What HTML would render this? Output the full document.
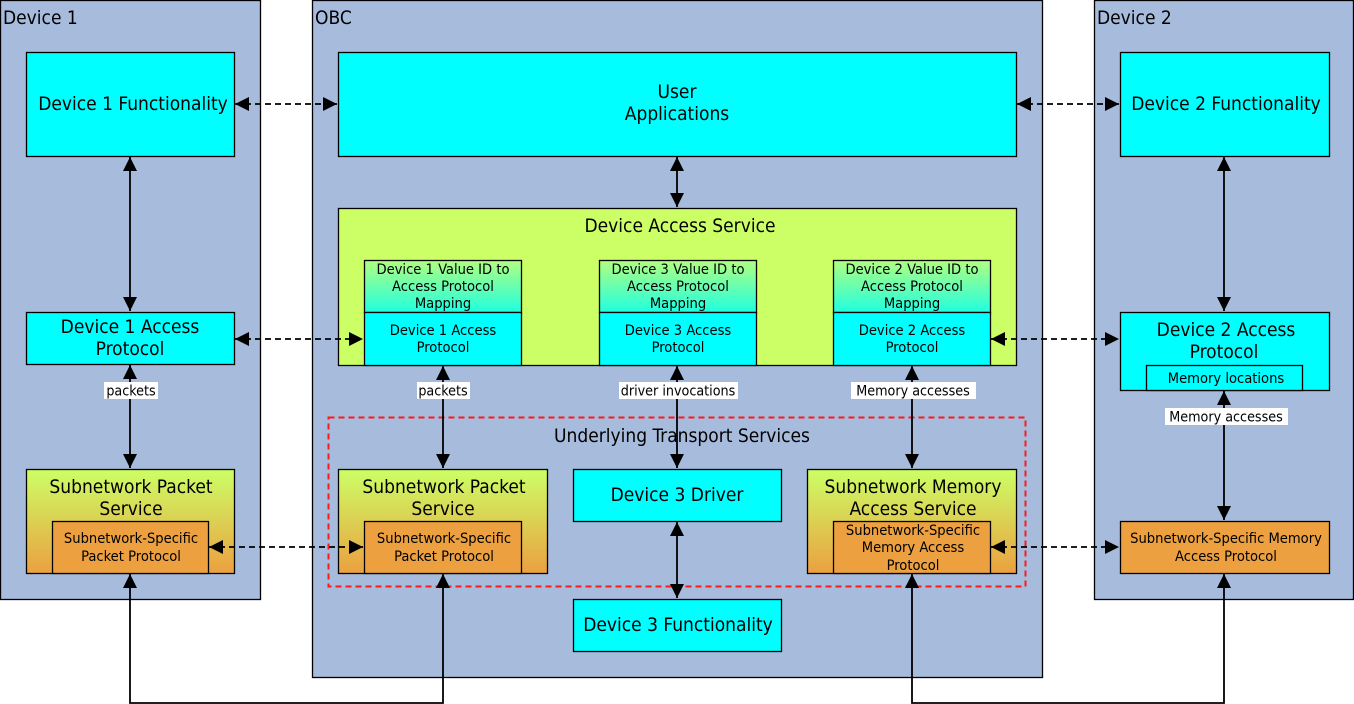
<!DOCTYPE html>
<html><head><meta charset="utf-8"><style>
body{margin:0;background:#fff}
svg{display:block}
text{font-family:"DejaVu Sans Condensed","DejaVu Sans","Liberation Sans",sans-serif;fill:#000}
</style></head><body>
<svg width="1354" height="704" viewBox="0 0 1354 704" xmlns="http://www.w3.org/2000/svg">
<defs>
<linearGradient id="svc" x1="0" y1="0" x2="0" y2="1"><stop offset="0" stop-color="#ccff66"/><stop offset="1" stop-color="#eca040"/></linearGradient>
<linearGradient id="map" x1="0" y1="0" x2="0" y2="1"><stop offset="0" stop-color="#b0ff80"/><stop offset="1" stop-color="#20ffe0"/></linearGradient>
<marker id="a" viewBox="0 0 10 10" refX="10" refY="5" markerWidth="14" markerHeight="14" markerUnits="userSpaceOnUse" orient="auto-start-reverse"><path d="M0,0L10,5L0,10z" fill="#000"/></marker>
</defs>
<g stroke="#000" stroke-width="1.3">
<rect x="0.5" y="0.5" width="260" height="599" fill="#a7bbdc"/>
<rect x="312.5" y="0.5" width="730" height="677" fill="#a7bbdc"/>
<rect x="1094.5" y="0.5" width="259" height="599" fill="#a7bbdc"/>
<rect x="26.5" y="52.5" width="208" height="104" fill="#00ffff"/>
<rect x="338.5" y="52.5" width="678" height="104" fill="#00ffff"/>
<rect x="1120.5" y="52.5" width="209" height="104" fill="#00ffff"/>
<rect x="338.5" y="208.5" width="678" height="157" fill="#ccff66"/>
<rect x="364.5" y="260.5" width="157" height="52" fill="url(#map)"/>
<rect x="599.5" y="260.5" width="157" height="52" fill="url(#map)"/>
<rect x="833.5" y="260.5" width="157" height="52" fill="url(#map)"/>
<rect x="364.5" y="312.5" width="157" height="53" fill="#00ffff"/>
<rect x="599.5" y="312.5" width="157" height="53" fill="#00ffff"/>
<rect x="833.5" y="312.5" width="157" height="53" fill="#00ffff"/>
<rect x="26.5" y="312.5" width="208" height="52" fill="#00ffff"/>
<rect x="1120.5" y="312.5" width="209" height="78" fill="#00ffff"/>
<rect x="1146.5" y="365.5" width="156" height="25" fill="#00ffff"/>
<rect x="26.5" y="469.5" width="208" height="104" fill="url(#svc)"/>
<rect x="52.5" y="521.5" width="156" height="52" fill="#eca040"/>
<rect x="338.5" y="469.5" width="209" height="104" fill="url(#svc)"/>
<rect x="364.5" y="521.5" width="157" height="52" fill="#eca040"/>
<rect x="573.5" y="469.5" width="208" height="52" fill="#00ffff"/>
<rect x="807.5" y="469.5" width="209" height="104" fill="url(#svc)"/>
<rect x="833.5" y="521.5" width="157" height="52" fill="#eca040"/>
<rect x="1120.5" y="521.5" width="209" height="52" fill="#eca040"/>
<rect x="573.5" y="599.5" width="208" height="52" fill="#00ffff"/>
</g>
<rect x="328.5" y="417.5" width="697" height="169" fill="none" stroke="#ff1a1a" stroke-width="2" stroke-dasharray="6,4"/>
<g stroke="#000" stroke-width="1.8" fill="none" stroke-dasharray="6,4">
<line x1="235" y1="104" x2="337" y2="104" marker-start="url(#a)" marker-end="url(#a)"/>
<line x1="1017" y1="104" x2="1119" y2="104" marker-start="url(#a)" marker-end="url(#a)"/>
<line x1="235" y1="339" x2="363" y2="339" marker-start="url(#a)" marker-end="url(#a)"/>
<line x1="991" y1="339" x2="1119" y2="339" marker-start="url(#a)" marker-end="url(#a)"/>
<line x1="209" y1="547" x2="363" y2="547" marker-start="url(#a)" marker-end="url(#a)"/>
<line x1="991" y1="547" x2="1119" y2="547" marker-start="url(#a)" marker-end="url(#a)"/>
</g>
<g stroke="#000" stroke-width="1.8" fill="none">
<line x1="130" y1="157" x2="130" y2="311" marker-start="url(#a)" marker-end="url(#a)"/>
<line x1="130" y1="365" x2="130" y2="468" marker-start="url(#a)" marker-end="url(#a)"/>
<line x1="677" y1="157" x2="677" y2="207" marker-start="url(#a)" marker-end="url(#a)"/>
<line x1="443" y1="366" x2="443" y2="468" marker-start="url(#a)" marker-end="url(#a)"/>
<line x1="677" y1="366" x2="677" y2="468" marker-start="url(#a)" marker-end="url(#a)"/>
<line x1="912" y1="366" x2="912" y2="468" marker-start="url(#a)" marker-end="url(#a)"/>
<line x1="1224" y1="157" x2="1224" y2="311" marker-start="url(#a)" marker-end="url(#a)"/>
<line x1="1224" y1="391" x2="1224" y2="520" marker-start="url(#a)" marker-end="url(#a)"/>
<line x1="677" y1="522" x2="677" y2="598" marker-start="url(#a)" marker-end="url(#a)"/>
<polyline points="130,574 130,703 443,703 443,574" marker-start="url(#a)" marker-end="url(#a)"/>
<polyline points="912,574 912,703 1224,703 1224,574" marker-start="url(#a)" marker-end="url(#a)"/>
</g>
<g fill="#fff">
<rect x="104" y="382" width="54" height="17"/>
<rect x="417" y="382" width="53" height="17"/>
<rect x="619" y="382" width="119" height="17"/>
<rect x="851" y="382" width="125" height="17"/>
<rect x="1165" y="408" width="123" height="17"/>
</g>
<g font-size="14.2" text-anchor="middle">
<text x="131" y="395.5">packets</text>
<text x="443" y="395.5">packets</text>
<text x="678" y="395.5">driver invocations</text>
<text x="913" y="395.5">Memory accesses</text>
<text x="1226" y="421.5">Memory accesses</text>
</g>
<g font-size="19">
<text x="3" y="24">Device 1</text>
<text x="315" y="24">OBC</text>
<text x="1097" y="24">Device 2</text>
</g>
<g font-size="19" text-anchor="middle">
<text x="133" y="110">Device 1 Functionality</text>
<text x="677" y="98">User</text>
<text x="677" y="120">Applications</text>
<text x="1226" y="110">Device 2 Functionality</text>
<text x="680" y="232">Device Access Service</text>
<text x="130" y="333">Device 1 Access</text>
<text x="130" y="355">Protocol</text>
<text x="1226" y="336">Device 2 Access</text>
<text x="1224" y="358">Protocol</text>
<text x="682" y="442">Underlying Transport Services</text>
<text x="131" y="493">Subnetwork Packet</text>
<text x="131" y="515">Service</text>
<text x="444" y="493">Subnetwork Packet</text>
<text x="443" y="515">Service</text>
<text x="913" y="493">Subnetwork Memory</text>
<text x="913" y="515">Access Service</text>
<text x="677" y="501">Device 3 Driver</text>
<text x="678" y="631">Device 3 Functionality</text>
</g>
<g font-size="14.6" text-anchor="middle">
<text x="443" y="274">Device 1 Value ID to</text>
<text x="443" y="291">Access Protocol</text>
<text x="443" y="308">Mapping</text>
<text x="678" y="274">Device 3 Value ID to</text>
<text x="678" y="291">Access Protocol</text>
<text x="678" y="308">Mapping</text>
<text x="912" y="274">Device 2 Value ID to</text>
<text x="912" y="291">Access Protocol</text>
<text x="912" y="308">Mapping</text>
<text x="443" y="335">Device 1 Access</text>
<text x="443" y="352">Protocol</text>
<text x="678" y="335">Device 3 Access</text>
<text x="678" y="352">Protocol</text>
<text x="912" y="335">Device 2 Access</text>
<text x="912" y="352">Protocol</text>
<text x="1226" y="383">Memory locations</text>
<text x="131" y="543">Subnetwork-Specific</text>
<text x="131" y="561">Packet Protocol</text>
<text x="444" y="543">Subnetwork-Specific</text>
<text x="444" y="561">Packet Protocol</text>
<text x="913" y="535">Subnetwork-Specific</text>
<text x="913" y="552">Memory Access</text>
<text x="913" y="570">Protocol</text>
<text x="1226" y="543">Subnetwork-Specific Memory</text>
<text x="1226" y="561">Access Protocol</text>
</g>
</svg>
</body></html>
